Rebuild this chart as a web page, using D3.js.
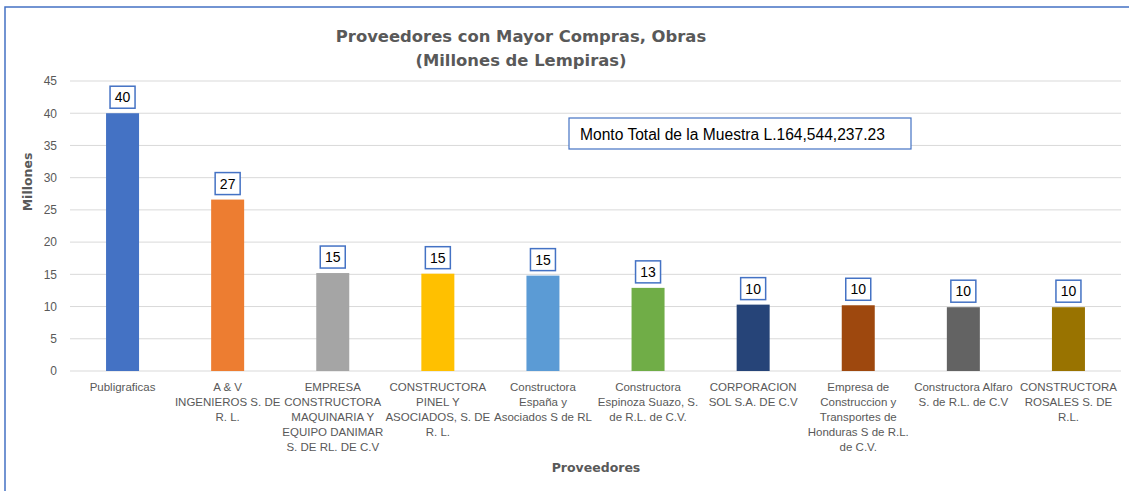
<!DOCTYPE html>
<html>
<head>
<meta charset="utf-8">
<script src="https://cdn.jsdelivr.net/npm/d3@7"></script>
<style>
  html, body { margin: 0; padding: 0; background: #fff; }
  svg { display: block; }
</style>
</head>
<body>
<svg id="chart" width="1129" height="491"></svg>
<script>
// proveedores (line breaks as in the original labels)
const categories = [
  "Publigraficas",
  "A & V\nINGENIEROS S. DE\nR. L.",
  "EMPRESA\nCONSTRUCTORA\nMAQUINARIA Y\nEQUIPO DANIMAR\nS. DE RL. DE C.V",
  "CONSTRUCTORA\nPINEL Y\nASOCIADOS, S. DE\nR. L.",
  "Constructora\nEspaña y\nAsociados S de RL",
  "Constructora\nEspinoza Suazo, S.\nde R.L. de C.V.",
  "CORPORACION\nSOL S.A. DE C.V",
  "Empresa de\nConstruccion y\nTransportes de\nHonduras S de R.L.\nde C.V.",
  "Constructora Alfaro\nS. de R.L. de C.V",
  "CONSTRUCTORA\nROSALES S. DE\nR.L."
];
// millones de lempiras
const values = [40.0, 26.6, 15.2, 15.1, 14.8, 12.9, 10.3, 10.2, 9.9, 9.9];
const barColors = ["#4472C4", "#ED7D31", "#A5A5A5", "#FFC000", "#5B9BD5",
                   "#70AD47", "#264478", "#9E480E", "#636363", "#997300"];
const yTicks = [0, 5, 10, 15, 20, 25, 30, 35, 40, 45];

const titleLines = ["Proveedores con Mayor Compras, Obras", "(Millones de Lempiras)"];
const note = "Monto Total de la Muestra L.164,544,237.23";

const svg = d3.select("#chart");
const plotLeft = 70, plotRight = 1121, plotTop = 81, plotBottom = 371;

// outer chart frame (right and bottom edges fall outside the picture)
svg.append("rect")
  .attr("x", 5).attr("y", 7)
  .attr("width", 1140).attr("height", 500)
  .attr("fill", "none").attr("stroke", "#4472C4").attr("stroke-width", 1.5);

const x = d3.scaleBand()
  .domain(d3.range(categories.length))
  .range([plotLeft, plotRight])
  .paddingInner(0.686)
  .paddingOuter(0.343);

const y = d3.scaleLinear().domain([0, 45]).range([plotBottom, plotTop]);

// gridlines
svg.append("g")
  .selectAll("line")
  .data(yTicks)
  .join("line")
  .attr("x1", plotLeft).attr("x2", plotRight)
  .attr("y1", d => y(d)).attr("y2", d => y(d))
  .attr("stroke", "#D9D9D9").attr("stroke-width", 1);

// y axis labels
const yAxis = svg.append("g")
  .attr("transform", `translate(${plotLeft},0)`)
  .call(d3.axisLeft(y).tickValues(yTicks).tickSize(0).tickPadding(13));
yAxis.select(".domain").remove();
yAxis.selectAll("text")
  .attr("fill", "#595959")
  .style("font-family", "'Liberation Sans', Arial, sans-serif")
  .style("font-size", "12px");

// bars
svg.append("g")
  .selectAll("rect")
  .data(values)
  .join("rect")
  .attr("x", (d, i) => x(i))
  .attr("y", d => y(d))
  .attr("width", x.bandwidth())
  .attr("height", d => y(0) - y(d))
  .attr("fill", (d, i) => barColors[i]);

// data labels in boxes
const lbl = svg.append("g")
  .selectAll("g")
  .data(values)
  .join("g")
  .attr("transform", (d, i) => `translate(${x(i) + x.bandwidth() / 2},${y(d) - 16})`);
lbl.append("rect")
  .attr("x", -12.5).attr("y", -11)
  .attr("width", 25).attr("height", 22)
  .attr("fill", "#fff").attr("stroke", "#4472C4").attr("stroke-width", 1.5);
lbl.append("text")
  .attr("text-anchor", "middle")
  .attr("dy", "0.36em")
  .style("font-family", "'Liberation Sans', Arial, sans-serif")
  .style("font-size", "14px")
  .attr("fill", "#000")
  .text(d => d3.format(".0f")(d));

// category labels
const cat = svg.append("g")
  .selectAll("text")
  .data(categories)
  .join("text")
  .attr("text-anchor", "middle")
  .attr("fill", "#595959")
  .style("font-family", "'Liberation Sans', Arial, sans-serif")
  .style("font-size", "11.5px");
cat.each(function (d, i) {
  const t = d3.select(this);
  d.split("\n").forEach((line, k) => {
    t.append("tspan")
      .attr("x", x(i) + x.bandwidth() / 2)
      .attr("y", 391 + k * 15)
      .text(line);
  });
});

// title
svg.append("g")
  .selectAll("text")
  .data(titleLines)
  .join("text")
  .attr("x", 521)
  .attr("y", (d, i) => 42 + i * 24)
  .attr("text-anchor", "middle")
  .attr("fill", "#595959")
  .style("font-family", "'DejaVu Sans', Verdana, sans-serif")
  .style("font-weight", "bold")
  .style("font-size", "16.4px")
  .text(d => d);

// axis titles
svg.append("text")
  .attr("transform", "translate(32,182) rotate(-90)")
  .attr("text-anchor", "middle")
  .attr("fill", "#595959")
  .style("font-family", "'DejaVu Sans', Verdana, sans-serif")
  .style("font-weight", "bold")
  .style("font-size", "12.5px")
  .text("Millones");

svg.append("text")
  .attr("x", 596).attr("y", 472)
  .attr("text-anchor", "middle")
  .attr("fill", "#595959")
  .style("font-family", "'DejaVu Sans', Verdana, sans-serif")
  .style("font-weight", "bold")
  .style("font-size", "12.5px")
  .text("Proveedores");

// total annotation
svg.append("rect")
  .attr("x", 569).attr("y", 118)
  .attr("width", 342).attr("height", 31)
  .attr("fill", "#fff").attr("stroke", "#4472C4").attr("stroke-width", 1.2);
svg.append("text")
  .attr("x", 580).attr("y", 139.5)
  .attr("fill", "#000")
  .style("font-family", "'Liberation Sans', Arial, sans-serif")
  .style("font-size", "15.6px")
  .text(note);
</script>
</body>
</html>
